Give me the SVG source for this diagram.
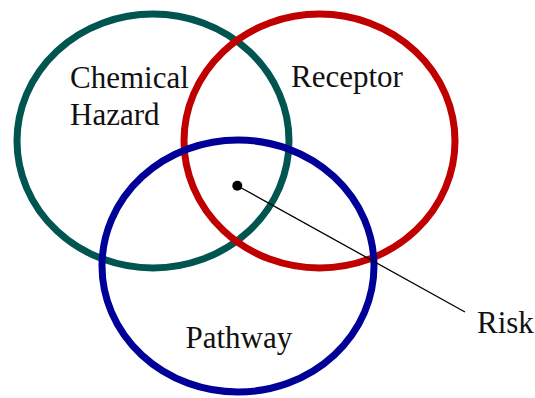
<svg xmlns="http://www.w3.org/2000/svg" width="535" height="398" viewBox="0 0 535 398">
  <style>
    .ring { fill: none; stroke-width: 7; }
    .label { font-family: "Liberation Serif", "Times New Roman", serif; font-size: 31px; fill: #111; }
  </style>
  <rect width="535" height="398" fill="#fff"/>
  <g id="hazard">
    <ellipse class="ring" cx="153" cy="141" rx="136" ry="127" stroke="#005550"/>
    <text class="label" x="70" y="88">Chemical</text>
    <text class="label" x="70" y="125">Hazard</text>
  </g>
  <g id="receptor">
    <ellipse class="ring" cx="319.5" cy="141" rx="135.5" ry="127" stroke="#C00000"/>
    <text class="label" x="291" y="87">Receptor</text>
  </g>
  <g id="pathway">
    <ellipse class="ring" cx="238" cy="266" rx="136" ry="126" stroke="#000099"/>
    <text class="label" x="185.5" y="348">Pathway</text>
  </g>
  <g id="connectors">
    <line x1="237.3" y1="185.7" x2="465" y2="312" stroke="#000" stroke-width="1.3"/>
    <circle cx="237.3" cy="185.7" r="5" fill="#000"/>
  </g>
  <g id="risk">
    <text class="label" x="477" y="333">Risk</text>
  </g>
</svg>
